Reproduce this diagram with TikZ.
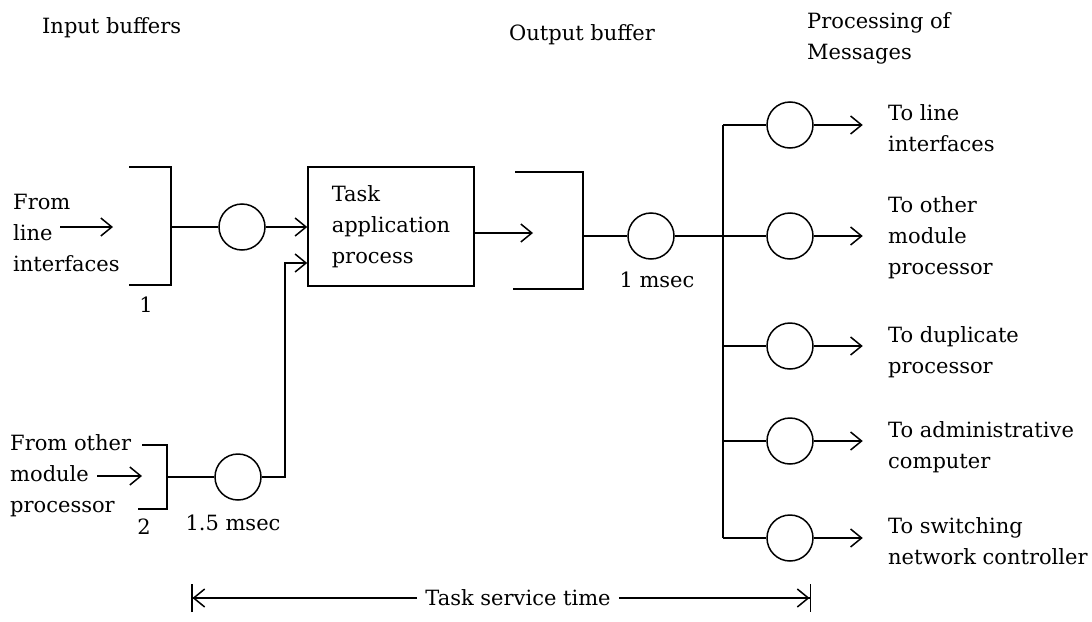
\documentclass[tikz,border=0pt]{standalone}
\usepackage{fontspec}
\setmainfont{DejaVu Serif}
\usetikzlibrary{arrows.meta}

\tikzset{
  base/.style={line width=1.5pt, line cap=butt, line join=miter},
  server/.style={base, draw, circle, minimum size=46pt, inner sep=0pt},
  taskbox/.style={base, draw, rectangle, minimum width=166pt, minimum height=119pt, inner sep=0pt, align=left},
  lbl/.style={inner sep=0pt, align=left, anchor=west},
  clbl/.style={inner sep=0pt, align=center},
  flow/.style={base, -{Straight Barb[length=11pt,width=18pt,line width=1.5pt]}},
  span/.style={base, -{Straight Barb[length=11pt,width=18pt,line width=1.5pt]Bar[width=28pt,line width=1.5pt]}},
  wire/.style={base},
}

\begin{document}
\begin{tikzpicture}[x=1pt, y=-1pt, font=\fontsize{21}{31}\selectfont]
  \useasboundingbox (0,0) rectangle (1092,621);

  % headings
  \node[lbl] (hin)  at (42,28)  {Input buffers};
  \node[lbl] (hout) at (509,35) {Output buffer};
  \node[lbl] (hpm)  at (807,38) {Processing of\\Messages};

  % input buffer 1 with its source
  \node[lbl] (src1) at (13,233) {From\\line\\interfaces};
  \coordinate (in1a) at (60,227);
  \coordinate (in1b) at (113,227);
  \draw[flow] (in1a) -- (in1b);
  \coordinate (b1) at (171,227);
  \draw[wire] (129,167) -- (171,167) -- (171,285) -- (129,285);
  \node[clbl] (n1) at (146,305) {1};
  \node[server] (s1) at (242,227) {};

  % input buffer 2 with its source
  \node[lbl] (src2) at (10,476) {From other\\module\\processor};
  \coordinate (in2a) at (97,476);
  \coordinate (in2b) at (142,476);
  \draw[flow] (in2a) -- (in2b);
  \coordinate (b2) at (167,477);
  \draw[wire] (142,445) -- (167,445) -- (167,509) -- (138,509);
  \node[clbl] (n2) at (144,527) {2};
  \node[server] (s2) at (238,477) {};
  \node[clbl] (t2) at (233,523) {1.5 msec};

  % task application process
  \node[taskbox] (task) at (391,226.5) {Task\\application\\process};

  \draw[wire] (b1) -- (s1.west);
  \draw[flow] (s1.east) -- (task.west |- s1);
  \draw[wire] (b2) -- (s2.west);
  \coordinate (up2) at (285,477);
  \coordinate (in2task) at (285,263);
  \draw[flow] (s2.east) -- (up2) -- (in2task) -- (task.west |- in2task);

  % output buffer
  \coordinate (ob) at (583,236);
  \coordinate (obin) at (533,233);
  \draw[flow] (task.east |- obin) -- (obin);
  \draw[wire] (515,172) -- (583,172) -- (583,289) -- (513,289);
  \node[server] (s3) at (651,236) {};
  \node[clbl] (t3) at (657,280) {1 msec};
  \draw[wire] (ob) -- (s3.west);

  % distribution of messages
  \node[server] (r1) at (790,125) {};
  \node[server] (r2) at (790,236) {};
  \node[server] (r3) at (790,346) {};
  \node[server] (r4) at (790,441) {};
  \node[server] (r5) at (790,538) {};
  \coordinate (bustop) at (723,125);
  \coordinate (busbot) at (723,538);
  \draw[wire] (bustop) -- (busbot);
  \draw[wire] (s3.east) -- (r2.west);
  \foreach \r in {r1,r3,r4,r5}
    \draw[wire] (bustop |- \r) -- (\r.west);

  \node[lbl] (d1) at (888,128) {To line\\interfaces};
  \node[lbl] (d2) at (888,238) {To other\\module\\processor};
  \node[lbl] (d3) at (888,352) {To duplicate\\processor};
  \node[lbl] (d4) at (888,447) {To administrative\\computer};
  \node[lbl] (d5) at (888,541) {To switching\\network controller};
  \foreach \r in {r1,r2,r3,r4,r5}
    \draw[flow] (\r.east) -- ++(49,0);

  % service time span
  \node[clbl] (tst) at (518,598) {Task service time};
  \coordinate (tl) at (191,598);
  \coordinate (tr) at (811,598);
  \draw[span] (tst.west) ++(-8,0) -- (tl);
  \draw[span] (tst.east) ++(8,0) -- (tr);
\end{tikzpicture}
\end{document}
